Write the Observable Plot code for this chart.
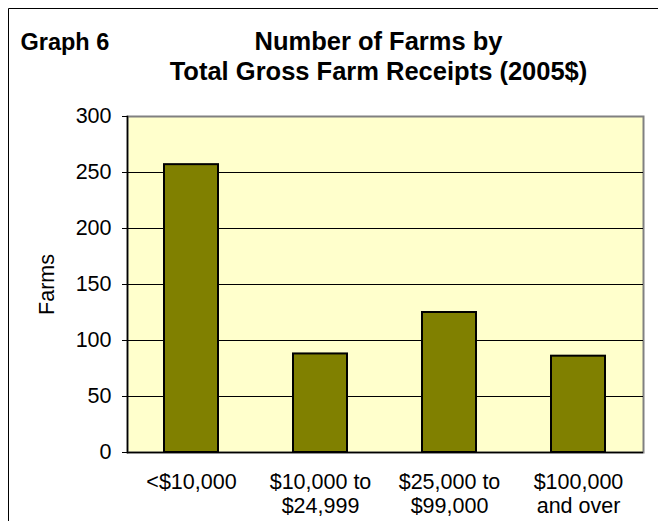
<!DOCTYPE html>
<html>
<head>
<meta charset="utf-8">
<script src="https://cdn.jsdelivr.net/npm/d3@7"></script>
<script src="https://cdn.jsdelivr.net/npm/@observablehq/plot@0.6"></script>
<style>
  html, body { margin: 0; padding: 0; background: #ffffff; overflow: hidden; width: 658px; height: 521px; }
  #wrap { position: relative; width: 658px; height: 521px; font-family: "Liberation Sans", Arial, sans-serif; }
  #chart { position: absolute; left: 0; top: 0; }
  #overlay { position: absolute; left: 0; top: 0; pointer-events: none; }
</style>
</head>
<body>
<div id="wrap">
  <div id="chart"></div>
  <svg id="overlay" width="658" height="521" font-family="Liberation Sans, Arial, sans-serif">
    <line x1="8.5" y1="8.5" x2="658" y2="8.5" stroke="#000" stroke-width="1"/>
    <line x1="8.5" y1="8.5" x2="8.5" y2="521" stroke="#000" stroke-width="1"/>
    <text x="20.5" y="50" font-size="23.5" font-weight="bold" fill="#000">Graph 6</text>
    <text x="378.5" y="50" font-size="25.5" font-weight="bold" text-anchor="middle" fill="#000">Number of Farms by</text>
    <text x="378.5" y="80" font-size="25.5" font-weight="bold" text-anchor="middle" fill="#000">Total Gross Farm Receipts (2005$)</text>
  </svg>
</div>
<script>
// Data
const categories = ["<$10,000", "$10,000 to\n$24,999", "$25,000 to\n$99,000", "$100,000\nand over"];
const farms = [257, 88, 125, 86];
const yTicks = [0, 50, 100, 150, 200, 250, 300];
const gridTicks = [50, 100, 150, 200, 250];

const data = categories.map((c, i) => ({cat: c, farms: farms[i]}));

const chart = Plot.plot({
  width: 658,
  height: 521,
  marginLeft: 127,
  marginRight: 15,
  marginTop: 116,
  marginBottom: 69,
  style: {fontFamily: "Liberation Sans, Arial, sans-serif", fontSize: "22px", color: "#000", background: "transparent", overflow: "visible"},
  x: {domain: categories, paddingInner: 0.58, paddingOuter: 0.29, align: 0.5},
  y: {domain: [0, 300]},
  marks: [
    Plot.frame({fill: "#FFFFCC", stroke: "#808080", strokeWidth: 2}),
    Plot.gridY(gridTicks, {stroke: "#000", strokeOpacity: 1, strokeWidth: 1}),
    Plot.barY(data, {x: "cat", y: "farms", fill: "#808000", stroke: "#000", strokeWidth: 2}),
    Plot.ruleY([0], {stroke: "#000", strokeWidth: 1.5}),
    Plot.frame({anchor: "left", stroke: "#000", strokeWidth: 1.5}),
    Plot.axisY(yTicks, {tickSize: 5, tickPadding: 11, fontSize: 21.5, label: "Farms", labelAnchor: "center", labelArrow: "none", labelOffset: 89, stroke: "#000"}),
    Plot.axisX({tickSize: 0, tickPadding: 20, fontSize: 21.5, lineHeight: 1.1, label: null})
  ]
});
document.getElementById("chart").appendChild(chart);
</script>
</body>
</html>
